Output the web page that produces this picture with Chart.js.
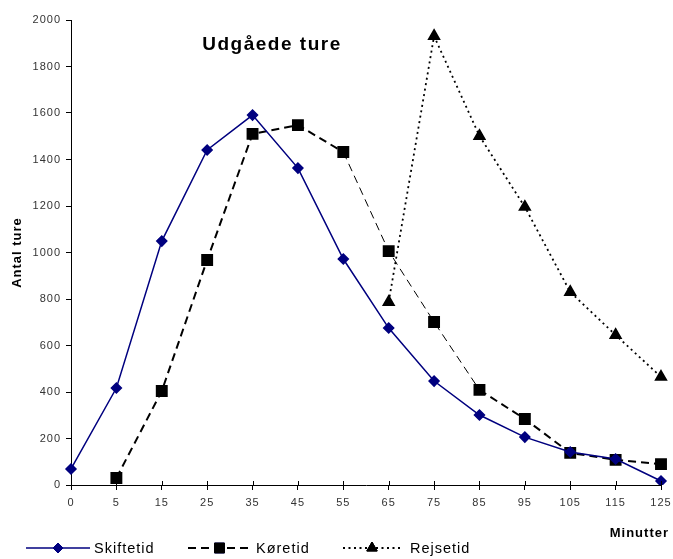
<!DOCTYPE html>
<html>
<head>
<meta charset="utf-8">
<script src="https://cdn.jsdelivr.net/npm/chart.js@4"></script>
<style>
  html, body { margin: 0; padding: 0; background: #fff; }
  canvas { display: block; }
</style>
</head>
<body>
<canvas id="ture" width="673" height="559"></canvas>
<script>
const minutter = ["0", "5", "15", "25", "35", "45", "55", "65", "75", "85", "95", "105", "115", "125"];
const skiftetid = [69, 417, 1049, 1441, 1591, 1363, 972, 675, 447, 301, 206, 142, 112, 17];
const koeretid = [null, 30, 404, 968, 1510, 1548, 1432, 1006, 701, 409, 284, 138, 108, 90];
const rejsetid = [null, null, null, null, null, null, null, 787, 1931, 1501, 1196, 830, 645, 465];
const yTicks = [0, 200, 400, 600, 800, 1000, 1200, 1400, 1600, 1800, 2000];

const FONT = "'Liberation Sans', Arial, sans-serif";

// letter spacing on everything the chart writes
const spacing = {
    id: "spacing",
    beforeDraw(chart) {
        chart.ctx.letterSpacing = "1px";
    },
};

// axis ticks that cross the axis line
const crossTicks = {
    id: "crossTicks",
    afterDatasetsDraw(chart) {
        const { ctx, chartArea, scales } = chart;
        ctx.save();
        ctx.strokeStyle = "#000";
        ctx.lineWidth = 1;
        ctx.beginPath();
        scales.x.ticks.forEach((t, i) => {
            const x = Math.round(scales.x.getPixelForTick(i)) + 0.5;
            ctx.moveTo(x, chartArea.bottom - 4);
            ctx.lineTo(x, chartArea.bottom);
        });
        scales.y.ticks.forEach((t, i) => {
            const y = Math.round(scales.y.getPixelForTick(i)) + 0.5;
            ctx.moveTo(chartArea.left, y);
            ctx.lineTo(chartArea.left + 1, y);
        });
        ctx.stroke();
        ctx.restore();
    },
};

// title, x-axis caption and the line+marker legend along the bottom
const texts = {
    id: "texts",
    afterDraw(chart) {
        const ctx = chart.ctx;
        ctx.save();
        ctx.letterSpacing = "1.5px";
        ctx.fillStyle = "#000";
        ctx.textBaseline = "middle";

        ctx.font = "bold 19px " + FONT;
        ctx.textAlign = "center";
        ctx.fillText("Udgåede ture", 272, 45);

        ctx.letterSpacing = "1px";
        ctx.font = "bold 13px " + FONT;
        ctx.textAlign = "right";
        ctx.fillText("Minutter", 669, 533);

        const items = [
            { x0: 26, x1: 90, text: 94 },
            { x0: 188, x1: 251, text: 256 },
            { x0: 343, x1: 401, text: 410 },
        ];
        const y = 548;
        chart.data.datasets.forEach((ds, i) => {
            const it = items[i];
            ctx.save();
            ctx.strokeStyle = ds.borderColor;
            ctx.lineWidth = ds.borderWidth;
            ctx.setLineDash(ds.borderDash || []);
            ctx.beginPath();
            ctx.moveTo(it.x0, y);
            ctx.lineTo(it.x1, y);
            ctx.stroke();
            ctx.restore();
            Chart.helpers.drawPoint(ctx, {
                pointStyle: ds.pointStyle,
                radius: ds.pointRadius,
                borderWidth: 1,
            }, (it.x0 + it.x1) / 2, y);
            ctx.fillStyle = ds.pointBackgroundColor;
            ctx.strokeStyle = ds.pointBorderColor;
            ctx.fill();
            ctx.stroke();
            ctx.fillStyle = "#000";
            ctx.font = "14.5px " + FONT;
            ctx.textAlign = "left";
            ctx.fillText(ds.label, it.text, y + 1);
        });
        ctx.restore();
    },
};

new Chart(document.getElementById("ture"), {
    type: "line",
    data: {
        labels: minutter,
        datasets: [
            {
                label: "Skiftetid",
                data: skiftetid,
                borderColor: "#00007f",
                borderWidth: 1.5,
                pointStyle: "rectRot",
                pointRadius: 5,
                pointBackgroundColor: "#00007f",
                pointBorderColor: "#00007f",
                tension: 0,
            },
            {
                label: "Køretid",
                data: koeretid,
                borderColor: "#000",
                borderWidth: 2,
                borderDash: [8, 5],
                pointStyle: "rect",
                pointRadius: 7,
                pointBackgroundColor: "#000",
                pointBorderColor: "#000",
                spanGaps: false,
                tension: 0,
                segment: {
                    borderWidth: c => (c.p0DataIndex >= 6 && c.p0DataIndex <= 8 ? 1 : 2),
                },
            },
            {
                label: "Rejsetid",
                data: rejsetid,
                borderColor: "#000",
                borderWidth: 1.8,
                borderDash: [2, 3.5],
                pointStyle: "triangle",
                pointRadius: 6,
                pointBackgroundColor: "#000",
                pointBorderColor: "#000",
                tension: 0,
            },
        ],
    },
    options: {
        responsive: false,
        animation: false,
        layout: { padding: { top: 20, right: 12, left: 0, bottom: 0 } },
        plugins: {
            legend: { display: false },
            title: { display: false },
            tooltip: { enabled: false },
        },
        scales: {
            x: {
                offset: false,
                grid: {
                    display: true,
                    drawOnChartArea: false,
                    color: "#000",
                    tickLength: 5,
                },
                border: { color: "#000", width: 1 },
                ticks: {
                    color: "#333",
                    font: { family: FONT, size: 11 },
                    padding: 6,
                    maxRotation: 0,
                    autoSkip: false,
                },
                afterFit(scale) {
                    scale.height = 74;
                    scale.paddingRight = 0;
                },
            },
            y: {
                min: 0,
                max: 2000,
                afterBuildTicks(scale) {
                    scale.ticks = yTicks.map(v => ({ value: v }));
                },
                grid: {
                    display: true,
                    drawOnChartArea: false,
                    color: "#000",
                    tickLength: 5,
                },
                border: { color: "#000", width: 1 },
                ticks: {
                    color: "#333",
                    font: { family: FONT, size: 11 },
                    padding: 5,
                    callback: v => String(v),
                },
                title: {
                    display: true,
                    text: "Antal ture",
                    color: "#000",
                    font: { family: FONT, size: 13, weight: "bold" },
                    padding: { top: 10, bottom: 0 },
                },
                afterFit(scale) { scale.width = 71; },
            },
        },
    },
    plugins: [spacing, crossTicks, texts],
});
</script>
</body>
</html>
